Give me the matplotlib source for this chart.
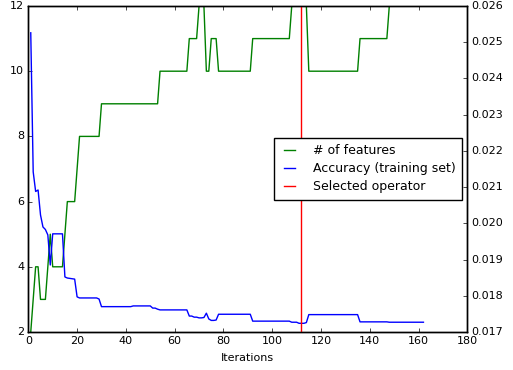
import matplotlib
matplotlib.use("Agg")
import matplotlib.pyplot as plt
from matplotlib.ticker import FormatStrFormatter

# iterations 1..162
iterations = list(range(1, 163))

# number of features (left axis)
n_features = [
    2, 3, 4, 4, 3, 3, 3, 4, 5, 4,
    4, 4, 4, 4, 5, 6, 6, 6, 6, 7,
    8, 8, 8, 8, 8, 8, 8, 8, 8, 9,
    9, 9, 9, 9, 9, 9, 9, 9, 9, 9,
    9, 9, 9, 9, 9, 9, 9, 9, 9, 9,
    9, 9, 9, 10, 10, 10, 10, 10, 10, 10,
    10, 10, 10, 10, 10, 11, 11, 11, 11, 12,
    12, 12, 10, 10, 11, 11, 11, 10, 10, 10,
    10, 10, 10, 10, 10, 10, 10, 10, 10, 10,
    10, 11, 11, 11, 11, 11, 11, 11, 11, 11,
    11, 11, 11, 11, 11, 11, 11, 12, 12, 12,
    12, 12, 12, 12, 10, 10, 10, 10, 10, 10,
    10, 10, 10, 10, 10, 10, 10, 10, 10, 10,
    10, 10, 10, 10, 10, 11, 11, 11, 11, 11,
    11, 11, 11, 11, 11, 11, 11, 12, 12, 12,
    12, 12, 12, 12, 12, 12, 12, 12, 12, 12,
    12, 12,
]

# accuracy on training set (right axis)
accuracy = [
    0.02526, 0.02142, 0.02088, 0.02092, 0.02023, 0.01990, 0.01983, 0.01968, 0.01885, 0.01971,
    0.01971, 0.01971, 0.01971, 0.01971, 0.01852, 0.01849, 0.01848, 0.01847, 0.01846, 0.01797,
    0.01794, 0.01794, 0.01794, 0.01794, 0.01794, 0.01794, 0.01794, 0.01794, 0.01791, 0.01770,
    0.01770, 0.01770, 0.01770, 0.01770, 0.01770, 0.01770, 0.01770, 0.01770, 0.01770, 0.01770,
    0.01770, 0.01770, 0.01772, 0.01772, 0.01772, 0.01772, 0.01772, 0.01772, 0.01772, 0.01772,
    0.01766, 0.01766, 0.01763, 0.01761, 0.01761, 0.01761, 0.01761, 0.01761, 0.01761, 0.01761,
    0.01761, 0.01761, 0.01761, 0.01761, 0.01761, 0.01744, 0.01744, 0.01741, 0.01741, 0.01739,
    0.01739, 0.01740, 0.01752, 0.01736, 0.01732, 0.01732, 0.01733, 0.01749, 0.01749, 0.01749,
    0.01749, 0.01749, 0.01749, 0.01749, 0.01749, 0.01749, 0.01749, 0.01749, 0.01749, 0.01749,
    0.01749, 0.01730, 0.01730, 0.01730, 0.01730, 0.01730, 0.01730, 0.01730, 0.01730, 0.01730,
    0.01730, 0.01730, 0.01730, 0.01730, 0.01730, 0.01730, 0.01730, 0.01727, 0.01727, 0.01727,
    0.01724, 0.01724, 0.01724, 0.01726, 0.01748, 0.01748, 0.01748, 0.01748, 0.01748, 0.01748,
    0.01748, 0.01748, 0.01748, 0.01748, 0.01748, 0.01748, 0.01748, 0.01748, 0.01748, 0.01748,
    0.01748, 0.01748, 0.01748, 0.01748, 0.01748, 0.01728, 0.01728, 0.01728, 0.01728, 0.01728,
    0.01728, 0.01728, 0.01728, 0.01728, 0.01728, 0.01728, 0.01728, 0.01727, 0.01727, 0.01727,
    0.01727, 0.01727, 0.01727, 0.01727, 0.01727, 0.01727, 0.01727, 0.01727, 0.01727, 0.01727,
    0.01727, 0.01727,
]

selected_iter = 112

plt.style.use("classic")
plt.rcParams["font.size"] = 8

fig = plt.figure(figsize=(5.13, 3.70), dpi=100)
ax = fig.add_axes([0.0552, 0.1027, 0.8558, 0.8811])
ax2 = ax.twinx()

l1, = ax.plot(iterations, n_features, color="g", linewidth=1)
l2, = ax2.plot(iterations, accuracy, color="b", linewidth=1)
l3 = ax2.axvline(selected_iter, color="r", linewidth=1)

ax.set_xlim(0, 180)
ax.set_ylim(2, 12)
ax.set_yticks([2, 4, 6, 8, 10, 12])
ax2.set_ylim(0.017, 0.026)
ax2.set_yticks([0.017, 0.018, 0.019, 0.020, 0.021, 0.022, 0.023, 0.024, 0.025, 0.026])
ax2.yaxis.set_major_formatter(FormatStrFormatter("%.3f"))
ax.set_xlabel("Iterations", fontsize=8)

for a in (ax, ax2):
    a.tick_params(labelsize=8, length=3, pad=3)
    a.tick_params(which="minor", length=0)

ax2.legend([l1, l2, l3], ["# of features", "Accuracy (training set)", "Selected operator"],
           loc="center right", fontsize=9, borderaxespad=0.45, handlelength=1.5,
           handletextpad=1.1, labelspacing=0.4, borderpad=0.5)

fig.savefig("out.png", dpi=100, facecolor="white")
